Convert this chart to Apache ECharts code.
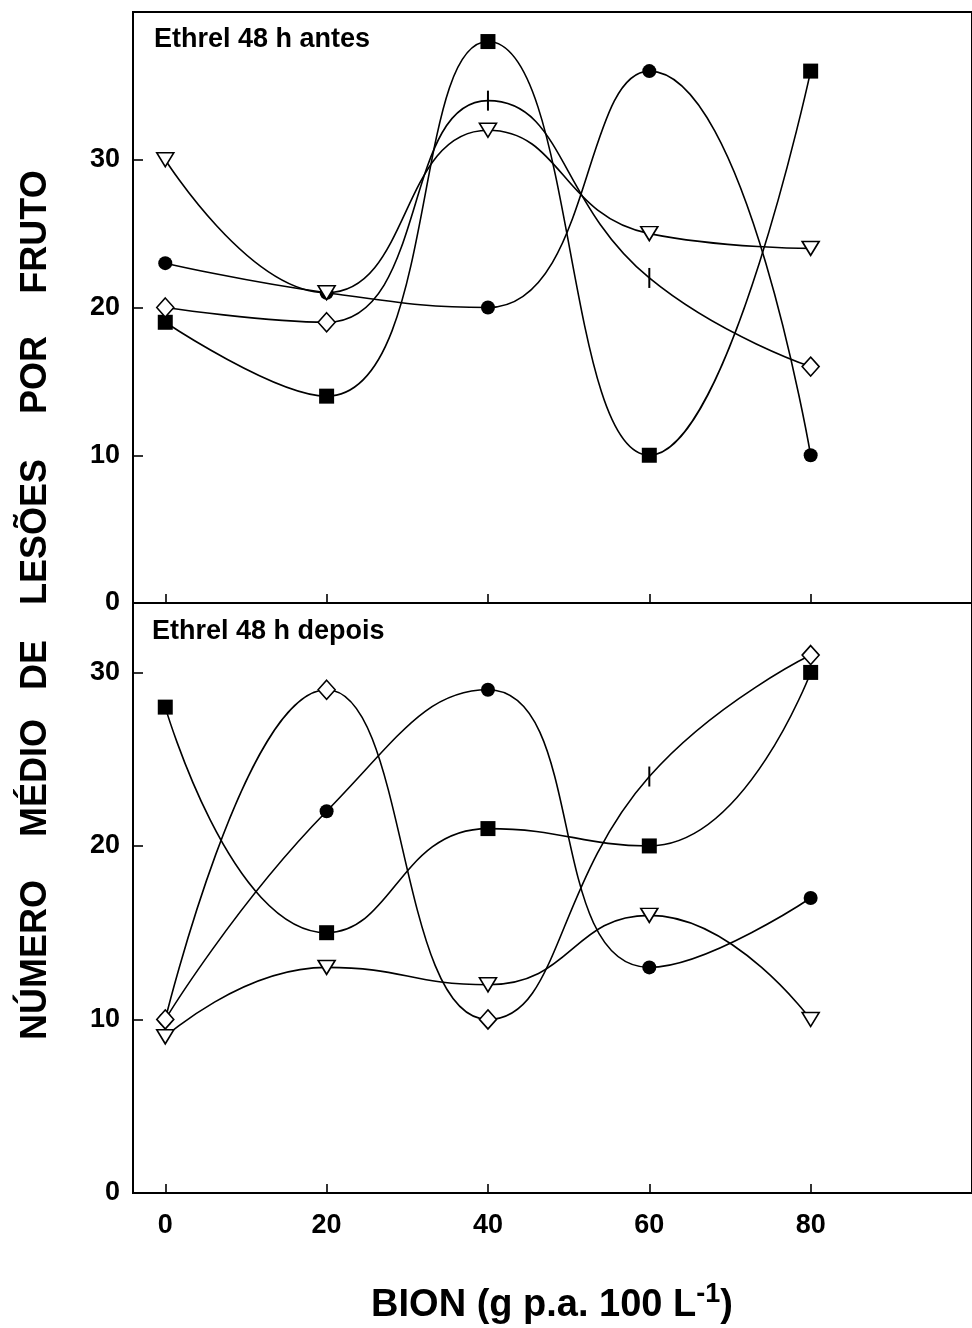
<!DOCTYPE html>
<html><head><meta charset="utf-8">
<script src="https://cdn.jsdelivr.net/npm/echarts@6/dist/echarts.min.js"></script>
<style>html,body{margin:0;padding:0;background:#fff}#c{width:972px;height:1328px}</style>
</head><body><div id="c"></div>
<script>
// ---- data ----
const doses = [0, 20, 40, 60, 80];
const xTickValues = [0, 20, 40, 60, 80];
const yTickValuesTop = [0, 10, 20, 30];
const yTickValuesBottom = [0, 10, 20, 30];
// Ethrel 48 h antes
const antesCircle   = [23, 21, 20, 36, 10];
const antesSquare   = [19, 14, 38, 10, 36];
const antesTriangle = [30, 21, 32, 25, 24];
const antesDiamond  = [20, 19, 34, 22, 16];
const antesDiamondBarIdx = [2, 3];
// Ethrel 48 h depois
const depoisSquare   = [28, 15, 21, 20, 30];
const depoisCircle   = [10, 22, 29, 13, 17];
const depoisTriangle = [9, 13, 12, 16, 10];
const depoisDiamond  = [10, 29, 10, 24, 31];
const depoisDiamondBarIdx = [3];
const panelTitles = ['Ethrel 48 h antes', 'Ethrel 48 h depois'];
const yTitleWords = ['NÚMERO', 'MÉDIO', 'DE', 'LESÕES', 'POR', 'FRUTO'];
const xTitle = 'BION (g p.a. 100 L{sup|-1})';

// ---- chart ----
const FONT = '"Liberation Sans", Arial, Helvetica, sans-serif';
const chart = echarts.init(document.getElementById('c'), null, {renderer: 'canvas'});

function pts(vals, barIdx) {
  return vals.map((v, i) => {
    const item = {value: [doses[i], v]};
    if (barIdx && barIdx.indexOf(i) >= 0) {
      item.symbol = 'rect';
      item.symbolSize = [2, 20];
      item.itemStyle = {color: '#000', borderWidth: 0};
    }
    return item;
  });
}
const lineStyle = {color: '#000', width: 1.6};
function mk(name, vals, gi, kind, barIdx) {
  const s = {
    name, type: 'line', xAxisIndex: gi, yAxisIndex: gi, data: pts(vals, barIdx),
    smooth: 0.5, lineStyle, showSymbol: true, symbolKeepAspect: true,
    emphasis: {disabled: true}, animation: false, z: 3
  };
  if (kind === 'circle') { s.symbol = 'circle'; s.symbolSize = 14; s.itemStyle = {color: '#000'}; }
  if (kind === 'square') { s.symbol = 'rect'; s.symbolSize = 15; s.itemStyle = {color: '#000'}; }
  if (kind === 'triangle') { s.symbol = 'triangle'; s.symbolRotate = 180; s.symbolSize = [17, 14]; s.itemStyle = {color: '#fff', borderColor: '#000', borderWidth: 1.6}; }
  if (kind === 'diamond') { s.symbol = 'diamond'; s.symbolSize = [17, 19]; s.itemStyle = {color: '#fff', borderColor: '#000', borderWidth: 1.6}; }
  return s;
}

function xAxis(gi, showLabels) {
  return {
    type: 'value', gridIndex: gi, min: -4, max: 100,
    axisLine: {show: false, onZero: false},
    axisTick: {show: true, inside: true, length: 9, lineStyle: {color: '#000', width: 1.6}, customValues: xTickValues},
    axisLabel: {show: showLabels, customValues: xTickValues, color: '#000', fontFamily: FONT, fontWeight: 'bold', fontSize: 27, margin: 19},
    splitLine: {show: false}
  };
}
function yAxis(gi, max, ticks) {
  return {
    type: 'value', gridIndex: gi, min: 0, max: max,
    axisLine: {show: false, onZero: false},
    axisTick: {show: true, inside: true, length: 10, lineStyle: {color: '#000', width: 1.6}, customValues: ticks},
    axisLabel: {customValues: ticks, color: '#000', fontFamily: FONT, fontWeight: 'bold', fontSize: 27, margin: 13},
    splitLine: {show: false}
  };
}

const yWordCenters = [960, 778, 665, 532, 375, 232];
const graphics = yTitleWords.map((w, i) => ({
  type: 'text', x: 36, y: yWordCenters[i], rotation: Math.PI / 2,
  style: {text: w, fill: '#000', font: 'bold 36px ' + FONT, textAlign: 'center', textVerticalAlign: 'middle'}
}));
graphics.push({type: 'text', x: 154, y: 40, style: {text: panelTitles[0], fill: '#000', font: 'bold 27px ' + FONT, textAlign: 'left', textVerticalAlign: 'middle'}});
graphics.push({type: 'text', x: 152, y: 632, style: {text: panelTitles[1], fill: '#000', font: 'bold 27px ' + FONT, textAlign: 'left', textVerticalAlign: 'middle'}});
graphics.push({type: 'text', x: 552, y: 1306, style: {
  text: xTitle, fill: '#000', font: 'bold 38px ' + FONT, textAlign: 'center', textVerticalAlign: 'middle',
  rich: {sup: {fontFamily: FONT, fontWeight: 'bold', fontSize: 27, fill: '#000', padding: [0, 0, 22, 0]}}
}});

chart.setOption({
  backgroundColor: '#fff',
  animation: false,
  grid: [
    {left: 133, right: -7, top: 12, height: 591, show: true, borderColor: '#000', borderWidth: 2, backgroundColor: 'transparent'},
    {left: 133, right: -7, top: 603, height: 590, show: true, borderColor: '#000', borderWidth: 2, backgroundColor: 'transparent'}
  ],
  xAxis: [xAxis(0, false), xAxis(1, true)],
  yAxis: [yAxis(0, 40, yTickValuesTop), yAxis(1, 34, yTickValuesBottom)],
  series: [
    mk('antes circle', antesCircle, 0, 'circle'),
    mk('antes square', antesSquare, 0, 'square'),
    mk('antes diamond', antesDiamond, 0, 'diamond', antesDiamondBarIdx),
    mk('antes triangle', antesTriangle, 0, 'triangle'),
    mk('depois square', depoisSquare, 1, 'square'),
    mk('depois circle', depoisCircle, 1, 'circle'),
    mk('depois diamond', depoisDiamond, 1, 'diamond', depoisDiamondBarIdx),
    mk('depois triangle', depoisTriangle, 1, 'triangle')
  ],
  graphic: graphics
});
</script></body></html>
